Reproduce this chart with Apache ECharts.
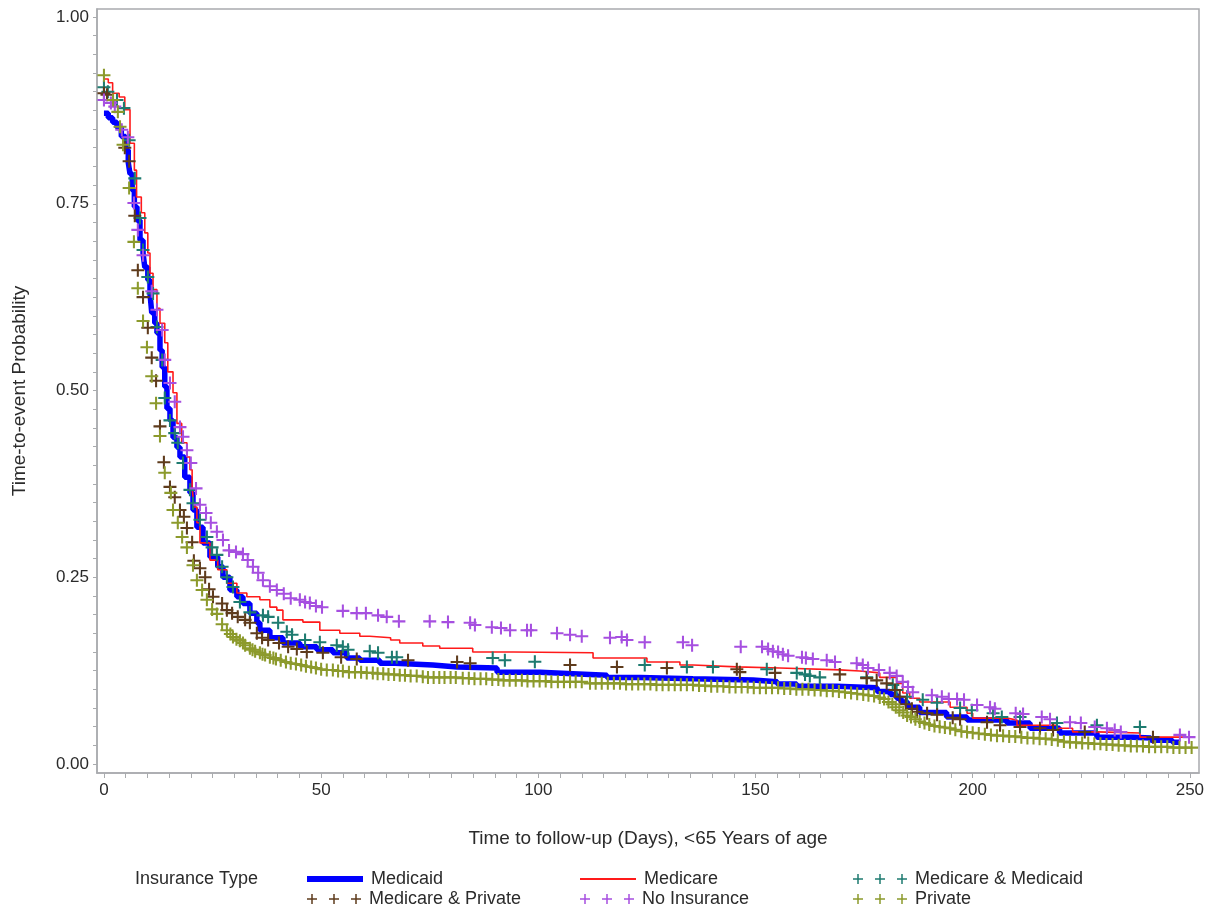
<!DOCTYPE html>
<html>
<head>
<meta charset="utf-8">
<script src="https://cdn.jsdelivr.net/npm/echarts@6/dist/echarts.min.js"></script>
<style>
html,body{margin:0;padding:0;background:#fff;}
#chart{width:1224px;height:912px;}
</style>
</head>
<body>
<div id="chart"></div>
<script>
// ---------- DATA ----------
const xTickValues = [0,5,10,15,20,25,30,35,40,45,50,55,60,65,70,75,80,85,90,95,100,105,110,115,120,125,130,135,140,145,150,155,160,165,170,175,180,185,190,195,200,205,210,215,220,225,230,235,240,245,250];
const xLabelValues = [0,50,100,150,200,250];
const yTickValues = [0,0.025,0.05,0.075,0.1,0.125,0.15,0.175,0.2,0.225,0.25,0.275,0.3,0.325,0.35,0.375,0.4,0.425,0.45,0.475,0.5,0.525,0.55,0.575,0.6,0.625,0.65,0.675,0.7,0.725,0.75,0.775,0.8,0.825,0.85,0.875,0.9,0.925,0.95,0.975,1];
const yLabelValues = [0,0.25,0.5,0.75,1];

const groupNames = ['Medicaid','Medicare','Medicare & Medicaid','Medicare & Private','No Insurance','Private'];

// Kaplan-Meier step curves [day, survival]
const medicaid = [[0,0.871],[1,0.865],[2,0.859],[3,0.852],[4,0.840],[5,0.822],[5.6,0.805],[6,0.79],[6.5,0.768],[7,0.746],[7.6,0.728],[8.3,0.701],[9,0.684],[9.4,0.665],[10.1,0.648],[10.6,0.63],[11,0.604],[11.7,0.59],[12.2,0.577],[12.9,0.554],[13.4,0.531],[14,0.505],[14.5,0.476],[15.2,0.46],[15.9,0.437],[16.8,0.424],[17.5,0.411],[18.6,0.384],[19.8,0.363],[20.5,0.340],[21.4,0.317],[22.8,0.296],[24.4,0.277],[26.2,0.264],[27.4,0.25],[29,0.233],[30.6,0.224],[32,0.215],[33.6,0.202],[35.2,0.189],[35.9,0.179],[38.2,0.169],[41.2,0.162],[45.1,0.157],[49,0.153],[52.7,0.149],[55.9,0.142],[58.9,0.139],[63.5,0.135],[67,0.1325],[75.7,0.130],[81.3,0.1285],[90.5,0.123],[100.4,0.121],[108,0.119],[115.8,0.116],[123.4,0.114],[135.6,0.1125],[149.4,0.110],[155,0.107],[159.5,0.104],[168.7,0.102],[178,0.097],[181,0.093],[182.5,0.088],[183.5,0.083],[185,0.076],[187.8,0.069],[194,0.063],[198.7,0.059],[207.9,0.055],[213.2,0.048],[220,0.0415],[228.6,0.036],[236.9,0.035],[241,0.032],[246,0.029],[247.7,0.029]];

const medicare = [[0,0.917],[1,0.912],[2,0.898],[3.5,0.893],[4.8,0.876],[6,0.831],[7,0.795],[7.5,0.759],[8.6,0.738],[9.4,0.711],[10.1,0.684],[10.6,0.657],[11.3,0.635],[12.2,0.61],[12.9,0.59],[14,0.564],[14.7,0.525],[15.9,0.497],[16.8,0.456],[17.9,0.43],[19.1,0.411],[19.8,0.394],[20.3,0.371],[20.7,0.344],[21.4,0.323],[22.1,0.296],[24.4,0.273],[26.2,0.26],[28.3,0.242],[30.6,0.229],[32.9,0.224],[35.9,0.22],[38.2,0.21],[39.8,0.206],[41.2,0.193],[45.8,0.19],[49.7,0.179],[54.3,0.175],[58.9,0.171],[61.2,0.169],[66,0.166],[68.1,0.162],[73.4,0.158],[77.3,0.155],[84.9,0.150],[94.2,0.149],[112.6,0.142],[125,0.1365],[132.6,0.1325],[135.6,0.130],[145.7,0.1285],[155.6,0.126],[169.4,0.1245],[174,0.122],[178.6,0.116],[182.5,0.108],[183.9,0.095],[185.5,0.088],[187.8,0.083],[194.8,0.076],[198.7,0.068],[200,0.0615],[207.9,0.059],[210.2,0.052],[219.4,0.048],[223,0.043],[228.6,0.0415],[238.5,0.036],[249.3,0.036]];

// censored observations [day, survival]
const medicareMedicaid = [[0,0.906],[0.9,0.900],[3.0,0.889],[4.6,0.878],[5.8,0.835],[7.1,0.784],[8.3,0.731],[9.0,0.688],[10.1,0.652],[11.3,0.630],[12.2,0.585],[13.4,0.541],[14.0,0.490],[15.2,0.460],[16.3,0.443],[17.0,0.430],[18.2,0.403],[19.8,0.367],[20.5,0.349],[22.1,0.327],[23.7,0.304],[24.9,0.290],[26.0,0.280],[27.2,0.264],[28.3,0.250],[29.7,0.237],[31.3,0.217],[33.6,0.203],[36.6,0.199],[37.8,0.197],[40.1,0.189],[42.1,0.177],[43.3,0.173],[46.3,0.166],[49.7,0.163],[53.6,0.159],[55.0,0.157],[56.2,0.153],[61.2,0.151],[63.1,0.149],[66.3,0.143],[67.4,0.143],[89.5,0.142],[92.3,0.139],[99.2,0.137],[124.5,0.1325],[134.2,0.130],[140.2,0.130],[152.6,0.127],[159.5,0.122],[161.4,0.120],[162.5,0.118],[164.8,0.116],[175.6,0.116],[181.6,0.106],[182.5,0.099],[184.9,0.090],[188.5,0.086],[191.8,0.082],[197.1,0.075],[199.8,0.072],[204.7,0.068],[206.7,0.063],[210.9,0.063],[219.4,0.055],[228.6,0.052],[238.5,0.0495]];

const medicarePrivate = [[0,0.898],[0.7,0.896],[4.8,0.825],[5.8,0.807],[7.1,0.734],[7.8,0.661],[9.0,0.625],[10.1,0.584],[11.0,0.544],[12.0,0.513],[12.9,0.452],[13.8,0.404],[15.2,0.371],[16.3,0.357],[17.5,0.340],[18.4,0.331],[19.1,0.316],[20.3,0.297],[20.7,0.272],[22.1,0.262],[23.3,0.250],[24.2,0.234],[25.1,0.224],[27.2,0.215],[28.3,0.206],[29.5,0.202],[30.8,0.197],[32.5,0.193],[33.6,0.189],[35.2,0.175],[36.4,0.169],[37.8,0.166],[40.3,0.162],[42.4,0.157],[44.4,0.154],[46.7,0.150],[50.4,0.149],[54.6,0.143],[58.2,0.1405],[70.0,0.139],[81.3,0.1365],[84.3,0.135],[107.3,0.1325],[118.1,0.130],[129.6,0.1285],[145.7,0.127],[146.4,0.123],[154.5,0.122],[169.4,0.120],[175.6,0.115],[177.9,0.112],[180.2,0.108],[182.1,0.099],[183.2,0.090],[184.6,0.080],[186.0,0.074],[187.2,0.070],[189.5,0.068],[191.8,0.066],[195.4,0.062],[197.1,0.060],[203.3,0.056],[206.3,0.052],[210.9,0.0495],[215.5,0.048],[218.5,0.0455],[225.8,0.043],[241.5,0.036]];

const noInsurance = [[0,0.889],[1.6,0.885],[2.5,0.880],[4.1,0.849],[5.5,0.839],[6.9,0.751],[7.8,0.715],[9.0,0.681],[11.0,0.633],[12.2,0.608],[13.4,0.581],[14.0,0.541],[15.2,0.510],[16.3,0.485],[17.5,0.451],[18.2,0.438],[19.1,0.420],[20.0,0.403],[21.2,0.369],[22.1,0.347],[23.5,0.336],[24.6,0.323],[26.0,0.311],[27.4,0.300],[28.8,0.286],[30.4,0.284],[32.0,0.281],[33.1,0.273],[34.3,0.264],[35.5,0.256],[36.6,0.246],[38.2,0.238],[39.8,0.233],[41.4,0.228],[43.0,0.222],[45.1,0.220],[46.3,0.217],[47.4,0.2155],[48.8,0.2115],[50.2,0.210],[55.0,0.205],[58.2,0.202],[60.3,0.202],[63.1,0.199],[65.1,0.197],[67.9,0.191],[75.0,0.191],[79.2,0.190],[84.3,0.189],[85.4,0.186],[89.3,0.183],[91.4,0.182],[93.5,0.179],[97.4,0.179],[98.3,0.179],[104.3,0.175],[107.3,0.173],[110.0,0.171],[116.5,0.169],[119.2,0.170],[120.4,0.166],[124.5,0.163],[133.3,0.163],[135.4,0.159],[146.6,0.157],[151.5,0.157],[152.9,0.154],[154.0,0.151],[155.2,0.150],[156.3,0.147],[157.5,0.145],[160.7,0.143],[161.6,0.142],[163.2,0.1405],[166.4,0.139],[168.3,0.1365],[173.3,0.135],[174.7,0.1325],[175.9,0.1285],[178.4,0.126],[180.9,0.122],[182.5,0.118],[183.9,0.110],[185.1,0.103],[186.2,0.096],[190.6,0.092],[192.9,0.090],[194.5,0.087],[196.4,0.087],[198.0,0.086],[201.0,0.079],[204.0,0.076],[205.1,0.074],[209.9,0.068],[211.6,0.067],[215.9,0.063],[217.8,0.060],[222.4,0.056],[224.9,0.055],[228.1,0.0495],[230.9,0.048],[232.7,0.0455],[234.1,0.043],[247.7,0.039],[249.8,0.036]];

const privateIns = [[0,0.922],[2.1,0.889],[3.2,0.873],[3.7,0.853],[4.4,0.829],[5.8,0.771],[6.9,0.699],[7.8,0.637],[9.0,0.593],[9.9,0.558],[11.0,0.519],[12.0,0.483],[12.9,0.439],[14.0,0.390],[15.4,0.363],[15.9,0.340],[17.0,0.323],[18.0,0.304],[19.1,0.290],[20.5,0.266],[21.4,0.246],[22.6,0.233],[23.7,0.220],[24.9,0.207],[26.0,0.201],[27.2,0.187],[28.3,0.179],[29.1,0.174],[29.7,0.170],[30.5,0.167],[31.3,0.165],[32.0,0.162],[32.5,0.159],[33.6,0.155],[34.2,0.153],[34.8,0.151],[35.9,0.149],[36.5,0.147],[37.1,0.146],[38.2,0.143],[39.0,0.142],[39.6,0.1405],[40.7,0.139],[41.9,0.1365],[43.0,0.135],[44.2,0.134],[45.4,0.1325],[46.5,0.131],[47.7,0.130],[48.8,0.1285],[50.0,0.127],[51.3,0.126],[52.7,0.126],[53.9,0.1245],[55.0,0.1245],[56.4,0.123],[57.8,0.123],[59.2,0.123],[60.5,0.122],[61.9,0.122],[63.0,0.121],[64.3,0.121],[65.5,0.120],[66.8,0.120],[68.1,0.119],[69.3,0.119],[70.6,0.118],[72.0,0.118],[73.4,0.117],[74.6,0.116],[75.9,0.116],[77.2,0.116],[78.4,0.116],[79.8,0.116],[81.0,0.116],[82.6,0.115],[84.0,0.115],[85.3,0.114],[86.7,0.114],[88.0,0.114],[89.4,0.113],[90.8,0.113],[92.0,0.112],[93.4,0.112],[94.8,0.112],[96.2,0.112],[97.5,0.111],[98.9,0.111],[100.3,0.111],[101.7,0.111],[103.0,0.110],[104.5,0.110],[105.9,0.110],[107.3,0.110],[108.6,0.110],[110.0,0.110],[111.9,0.108],[113.2,0.108],[114.6,0.108],[116.0,0.108],[117.4,0.108],[118.8,0.108],[120.2,0.107],[121.6,0.107],[123.0,0.107],[124.4,0.107],[125.8,0.107],[127.2,0.106],[128.6,0.106],[130.0,0.106],[131.4,0.106],[132.8,0.106],[134.2,0.106],[135.6,0.106],[137.0,0.105],[138.4,0.105],[139.8,0.104],[141.2,0.104],[142.6,0.104],[144.0,0.103],[145.4,0.103],[146.8,0.103],[148.2,0.103],[149.6,0.102],[151.0,0.102],[152.4,0.102],[153.8,0.102],[155.2,0.102],[156.6,0.101],[158.0,0.101],[159.4,0.100],[160.8,0.100],[162.2,0.100],[163.6,0.099],[165.0,0.099],[166.4,0.098],[167.8,0.098],[169.2,0.097],[170.6,0.096],[172.0,0.095],[173.4,0.094],[174.8,0.093],[176.0,0.092],[177.3,0.091],[178.6,0.089],[179.6,0.087],[180.6,0.083],[181.5,0.080],[182.3,0.076],[183.1,0.072],[184.0,0.069],[184.9,0.065],[185.8,0.063],[186.8,0.060],[187.8,0.057],[188.9,0.055],[190.0,0.053],[191.2,0.051],[192.4,0.050],[193.6,0.049],[194.8,0.048],[196.0,0.046],[197.4,0.044],[198.7,0.043],[200.0,0.042],[201.4,0.041],[202.8,0.040],[204.2,0.039],[205.6,0.038],[207.0,0.038],[208.4,0.037],[209.8,0.037],[211.2,0.036],[212.6,0.035],[214.0,0.035],[215.4,0.034],[216.8,0.034],[218.2,0.033],[219.6,0.032],[221.0,0.030],[222.4,0.029],[223.8,0.029],[225.2,0.028],[226.6,0.028],[228.0,0.027],[229.4,0.027],[230.8,0.026],[232.2,0.026],[233.6,0.025],[235.0,0.025],[236.4,0.024],[237.8,0.024],[239.2,0.024],[240.6,0.023],[242.0,0.023],[243.4,0.023],[244.8,0.023],[246.2,0.022],[247.6,0.022],[249.0,0.022],[250.4,0.022]];

// ---------- STYLE ----------
const FONT = '"Liberation Sans", Arial, sans-serif';
const AXIS_GRAY = '#a9abae';
const TEXT = '#2b2b2b';
const colors = {
  'Medicaid': '#0000ff',
  'Medicare': '#ff1a1a',
  'Medicare & Medicaid': '#1e7b70',
  'Medicare & Private': '#5e3b1c',
  'No Insurance': '#a64fe0',
  'Private': '#8c9a2c'
};
const PLUS = 'path://M0,5.05H12V6.95H0Z M5.05,0H6.95V12H5.05Z';
const PLUS3 = 'path://M0,4.25H10V5.75H0Z M4.25,0H5.75V10H4.25Z M22,4.25H32V5.75H22Z M26.25,0H27.75V10H26.25Z M44,4.25H54V5.75H44Z M48.25,0H49.75V10H48.25Z';

const chart = echarts.init(document.getElementById('chart'), null, {renderer: 'canvas'});

function scatterSeries(name, data) {
  return {
    name, type: 'scatter', data,
    symbol: PLUS, symbolSize: 13,
    itemStyle: {color: colors[name], opacity: 1},
    emphasis: {disabled: true}, z: 3
  };
}

function legendItem(name, left, top, icon, w, h) {
  return {
    data: [{name, icon}], left, top, orient: 'horizontal',
    itemWidth: w, itemHeight: h, padding: 0, selectedMode: false,
    textStyle: {fontFamily: FONT, fontSize: 18, color: TEXT, padding: [0, 0, 0, 3]}
  };
}

const row1 = 870, row2 = 890;

chart.setOption({
  animation: false,
  backgroundColor: '#ffffff',
  grid: {left: 97, right: 25, top: 9, bottom: 139, show: true, borderColor: AXIS_GRAY, borderWidth: 1.5, containLabel: false},
  xAxis: {
    type: 'value', min: -1.6, max: 252.1,
    name: 'Time to follow-up (Days), <65 Years of age',
    nameLocation: 'middle', nameGap: 56,
    nameTextStyle: {fontFamily: FONT, fontSize: 19, color: TEXT},
    axisLine: {show: true, onZero: false, lineStyle: {color: AXIS_GRAY, width: 1.5}},
    axisTick: {show: true, customValues: xTickValues, length: 5, lineStyle: {color: AXIS_GRAY}},
    axisLabel: {customValues: xLabelValues, fontFamily: FONT, fontSize: 17, color: TEXT, margin: 9,
      formatter: v => String(Math.round(v))},
    splitLine: {show: false}
  },
  yAxis: {
    type: 'value', min: -0.012, max: 1.0107,
    name: 'Time-to-event Probability',
    nameLocation: 'middle', nameGap: 68, nameRotate: 90,
    nameTextStyle: {fontFamily: FONT, fontSize: 19, color: TEXT},
    axisLine: {show: true, onZero: false, lineStyle: {color: AXIS_GRAY, width: 1.5}},
    axisTick: {show: true, customValues: yTickValues, length: 4, lineStyle: {color: AXIS_GRAY}},
    axisLabel: {customValues: yLabelValues, fontFamily: FONT, fontSize: 17, color: TEXT, margin: 8,
      formatter: v => v.toFixed(2)},
    splitLine: {show: false}
  },
  legend: [
    legendItem('Medicaid', 307, row1, 'rect', 56, 6),
    legendItem('Medicare', 580, row1, 'rect', 56, 2),
    legendItem('Medicare & Medicaid', 853, row1, PLUS3, 54, 10),
    legendItem('Medicare & Private', 307, row2, PLUS3, 54, 10),
    legendItem('No Insurance', 580, row2, PLUS3, 54, 10),
    legendItem('Private', 853, row2, PLUS3, 54, 10)
  ],
  graphic: [{
    type: 'text', left: 135, top: row1,
    style: {text: 'Insurance Type', font: '18px ' + FONT, fill: TEXT}
  }],
  series: [
    {name: 'Medicaid', type: 'line', step: 'end', data: medicaid, showSymbol: false, symbol: 'none',
     lineStyle: {color: colors['Medicaid'], width: 5.5}, itemStyle: {color: colors['Medicaid']}, z: 2, emphasis: {disabled: true}},
    {name: 'Medicare', type: 'line', step: 'end', data: medicare, showSymbol: false, symbol: 'none',
     lineStyle: {color: colors['Medicare'], width: 1.6}, itemStyle: {color: colors['Medicare']}, z: 2, emphasis: {disabled: true}},
    scatterSeries('Medicare & Medicaid', medicareMedicaid),
    scatterSeries('Medicare & Private', medicarePrivate),
    scatterSeries('No Insurance', noInsurance),
    scatterSeries('Private', privateIns)
  ]
});
</script>
</body>
</html>
